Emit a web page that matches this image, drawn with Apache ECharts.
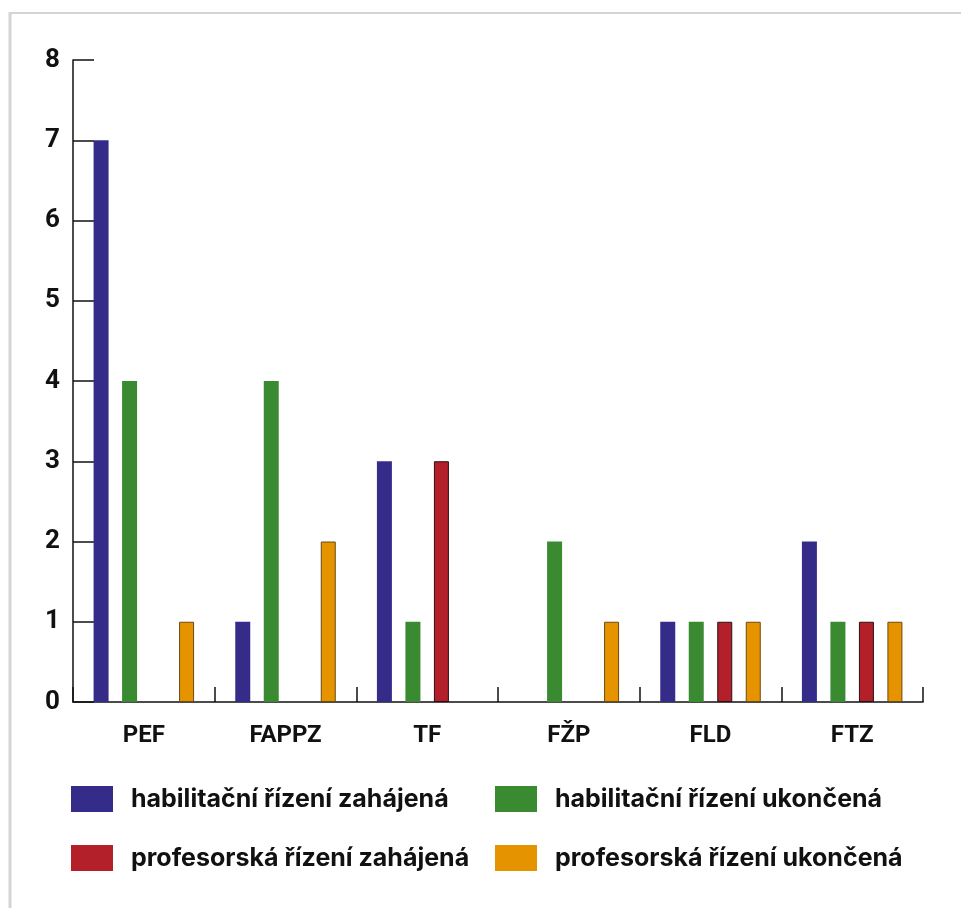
<!DOCTYPE html>
<html>
<head>
<meta charset="utf-8">
<script src="https://cdn.jsdelivr.net/npm/echarts@6/dist/echarts.min.js"></script>
<style>
  html, body { margin: 0; padding: 0; background: #fff; }
  #chart { width: 961px; height: 908px; }
</style>
</head>
<body>
<div id="chart"></div>
<script>
// Faculties (categories)
const faculties = ['PEF', 'FAPPZ', 'TF', 'FŽP', 'FLD', 'FTZ'];

// Number of proceedings per faculty
const habZahajena = [7, 1, 3, 0, 1, 2];
const habUkoncena = [4, 4, 1, 2, 1, 1];
const profZahajena = [0, 0, 3, 0, 1, 1];
const profUkoncena = [1, 2, 0, 1, 1, 1];

const seriesNames = [
  'habilitační řízení zahájená',
  'habilitační řízení ukončená',
  'profesorská řízení zahájená',
  'profesorská řízení ukončená'
];

const yTicks = [0, 1, 2, 3, 4, 5, 6, 7, 8];

const FONT = 'Roboto, "Liberation Sans", sans-serif';
const LEGEND_FONT = 'Inter, Roboto, sans-serif';
const colors = ['#352c8a', '#3a8a32', '#b3202a', '#e59400'];
const borders = [null, null, '#2a1010', '#6b4a10'];

const chart = echarts.init(document.getElementById('chart'), null, { renderer: 'canvas' });

// Bars with an outline keep it off the zero-height entries
function bar(name, values, idx) {
  const data = values.map(function (v) {
    if (!borders[idx]) return v;
    return { value: v, itemStyle: { borderWidth: v === 0 ? 0 : 1 } };
  });
  return {
    name: name,
    type: 'bar',
    data: data,
    barWidth: 15,
    barGap: '90%',
    itemStyle: { color: colors[idx], borderColor: borders[idx] || colors[idx], borderWidth: 0 }
  };
}

const legendText = { fontFamily: LEGEND_FONT, fontWeight: 'bold', fontSize: 25, color: '#111' };

function legendBlock(names, left) {
  return {
    data: names.map(function (n) {
      return { name: n, itemStyle: { borderWidth: 0 } };
    }),
    orient: 'vertical',
    left: left, top: 786,
    padding: 0,
    itemWidth: 42, itemHeight: 26,
    itemGap: 33,
    textStyle: Object.assign({ padding: [0, 0, 0, 13] }, legendText),
    icon: 'rect',
    selectedMode: false
  };
}

chart.setOption({
  animation: false,
  backgroundColor: '#fff',
  graphic: [
    { type: 'line', shape: { x1: 10, y1: 12, x2: 10, y2: 908 }, style: { stroke: '#d4d4d4', lineWidth: 3 } },
    { type: 'line', shape: { x1: 9, y1: 13, x2: 961, y2: 13 }, style: { stroke: '#d4d4d4', lineWidth: 2 } }
  ],
  grid: { left: 73, right: 38, top: 60, bottom: 206 },
  legend: [
    legendBlock([seriesNames[0], seriesNames[2]], 71),
    legendBlock([seriesNames[1], seriesNames[3]], 495)
  ],
  xAxis: {
    type: 'category',
    data: faculties,
    axisLine: { lineStyle: { color: '#111', width: 1.5 } },
    axisTick: { show: true, inside: true, length: 15, lineStyle: { color: '#111', width: 1.5 } },
    axisLabel: { fontFamily: FONT, fontWeight: 'bold', fontSize: 24, color: '#111', margin: 22 }
  },
  yAxis: {
    type: 'value',
    min: yTicks[0],
    max: yTicks[yTicks.length - 1],
    interval: 1,
    axisLine: { show: true, lineStyle: { color: '#111', width: 1.5 } },
    axisTick: { show: true, inside: true, length: 21, lineStyle: { color: '#111', width: 1.5 } },
    splitLine: { show: false },
    axisLabel: { fontFamily: FONT, fontWeight: 'bold', fontSize: 26, color: '#111', margin: 13 }
  },
  series: [
    bar(seriesNames[0], habZahajena, 0),
    bar(seriesNames[1], habUkoncena, 1),
    bar(seriesNames[2], profZahajena, 2),
    bar(seriesNames[3], profUkoncena, 3)
  ]
});
</script>
</body>
</html>
